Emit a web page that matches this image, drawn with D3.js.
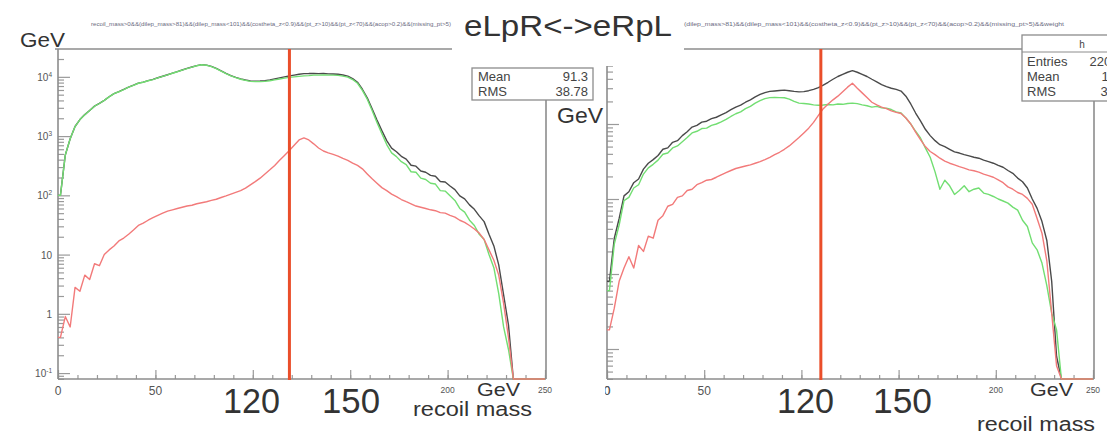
<!DOCTYPE html>
<html>
<head>
<meta charset="utf-8">
<script src="https://cdn.jsdelivr.net/npm/d3@7"></script>
<style>
  html, body { margin: 0; padding: 0; background: #fff; }
  svg { display: block; }
</style>
</head>
<body>
<svg id="chart" width="1107" height="435"></svg>
<script>
// Recoil-mass histograms, 100 bins of 2.5 GeV from 0 to 250 GeV.
const binWidth = 2.5;

// Left pad: eLpR
const leftTotal = [
  100, 481, 901, 1453, 1902, 2305, 2704, 3207, 3557, 4010,
  4612, 5214, 5617, 6119, 6722, 7226, 7831, 8134, 8638, 9042,
  9646, 10250, 10854, 11557, 12260, 13063, 13866, 14668, 15472, 16075,
  15778, 14982, 13886, 12592, 11398, 10505, 9812, 9220, 8832, 8550,
  8470, 8495, 8630, 8870, 9220, 9590, 9970, 10370, 10700, 11060,
  11330, 11360, 11440, 11330, 11360, 11220, 11190, 11060, 10720, 10290,
  9350, 8120, 6180, 4430, 2890, 1860, 1235, 840, 625, 545,
  455, 408, 322, 311, 258, 245, 217, 210, 171, 168,
  144, 125, 98, 87, 69, 58, 45, 36, 22, 14,
  6.7, 2.1, 0.65, 0, 0, 0, 0, 0, 0, 0
];
const leftBackground = [
  100, 480, 900, 1450, 1900, 2300, 2700, 3200, 3550, 4000,
  4600, 5200, 5600, 6100, 6700, 7200, 7800, 8100, 8600, 9000,
  9600, 10200, 10800, 11500, 12200, 13000, 13800, 14600, 15400, 16000,
  15700, 14900, 13800, 12500, 11300, 10400, 9700, 9100, 8700, 8400,
  8300, 8300, 8400, 8600, 8900, 9200, 9500, 9800, 10000, 10200,
  10400, 10500, 10700, 10700, 10800, 10700, 10700, 10600, 10300, 9900,
  9000, 7800, 5900, 4200, 2700, 1700, 1100, 720, 520, 450,
  370, 330, 250, 245, 195, 185, 160, 155, 120, 118,
  98, 82, 60, 52, 38, 31, 22, 18, 10, 6,
  2.2, 0.6, 0.25, 0, 0, 0, 0, 0, 0, 0
];
const leftSignal = [
  0.4, 0.9, 0.6, 2.8, 2.4, 4.5, 3.8, 7, 6.5, 10,
  12, 14, 17, 19, 22, 26, 31, 34, 38, 42,
  46, 50, 54, 57, 60, 63, 66, 68, 72, 75,
  78, 82, 86, 92, 98, 105, 112, 120, 132, 150,
  170, 195, 230, 270, 320, 390, 470, 570, 700, 860,
  930, 860, 740, 630, 560, 520, 490, 460, 420, 390,
  350, 320, 280, 230, 190, 160, 135, 120, 105, 95,
  85, 78, 72, 66, 63, 60, 57, 55, 51, 50,
  46, 43, 38, 35, 31, 27, 23, 18, 12, 8,
  4.5, 1.5, 0.4, 0, 0, 0, 0, 0, 0, 0
];

// Right pad: eRpL
const rightTotal = [
  8, 30, 55, 110, 125, 165, 185, 250, 300, 335,
  380, 460, 480, 570, 600, 700, 790, 910, 960, 1060,
  1090, 1180, 1230, 1320, 1420, 1550, 1680, 1780, 1950, 2100,
  2300, 2480, 2620, 2720, 2760, 2800, 2830, 2780, 2720, 2680,
  2700, 2780, 2900, 3050, 3300, 3600, 3950, 4300, 4600, 4900,
  5150, 4900, 4600, 4300, 3950, 3650, 3350, 3150, 3000, 2900,
  2750, 2350, 1850, 1400, 1100, 850, 700, 600, 530, 500,
  460, 425, 410, 390, 375, 360, 350, 330, 315, 300,
  280, 265, 240, 220, 190, 170, 140, 100, 75, 50,
  28, 8, 0.8, 0, 0, 0, 0, 0, 0, 0
];
const rightBackground = [
  6, 25, 45, 95, 105, 140, 155, 215, 260, 290,
  330, 395, 410, 480, 510, 580, 660, 760, 800, 870,
  880, 960, 1000, 1070, 1150, 1260, 1370, 1450, 1600, 1720,
  1900, 2050, 2180, 2250, 2260, 2250, 2240, 2150, 2000, 1900,
  1880, 1850, 1800, 1780, 1790, 1820, 1800, 1850, 1830, 1880,
  1900, 1870, 1800, 1750, 1680, 1720, 1640, 1620, 1560, 1450,
  1400, 1200, 1000, 800, 650, 480, 360, 230, 135, 178,
  150, 115, 130, 150, 125, 135, 140, 120, 115, 108,
  100, 94, 88, 78, 71, 52, 43, 26, 21, 14,
  7, 3, 1.8, 0, 0, 0, 0, 0, 0, 0
];
const rightSignal = [
  1.8, 3.5, 8, 12, 17, 12, 24, 20, 32, 30,
  52, 60, 80, 85, 105, 110, 130, 135, 155, 165,
  178, 182, 195, 210, 225, 240, 255, 265, 275, 285,
  300, 315, 335, 360, 390, 420, 460, 510, 580, 660,
  760, 880, 1050, 1300, 1600, 1850, 2100, 2350, 2700, 3100,
  3500, 3000, 2600, 2250, 1950, 1800, 1680, 1600, 1500, 1430,
  1380, 1200, 1000, 780, 620, 500, 430, 390, 350, 320,
  300, 285, 270, 258, 245, 238, 228, 215, 205, 195,
  180, 165, 145, 135, 122, 115, 102, 85, 55, 35,
  15, 3, 0.6, 0, 0, 0, 0, 0, 0, 0
];

// Axis ticks and labels
const xMinorTicks = d3.range(0, 251, 10);
const xMajorTicks = [0, 50, 100, 150, 200, 250];
const xLabelsLarge = [0, 50];
const xLabelsSmall = [200, 250];
const yLabelPowers = [-1, 0, 1, 2, 3, 4];

// Hand-drawn mass-cut markers (GeV)
const leftCut = 118.8;
const rightCut = 110;

// Statistics boxes
const leftStatNames = ["Mean", "RMS"];
const leftStatValues = ["91.3", "38.78"];
const rightStatNames = ["Entries", "Mean", "RMS"];
const rightStatValues = ["220054", "113.4", "38.52"];
const rightHistName = "h";

// Annotations
const titleText = "eLpR<->eRpL";
const selectionLeft = "recoil_mass>0&&(dilep_mass>81)&&(dilep_mass<101)&&(costheta_z<0.9)&&(pt_z>10)&&(pt_z<70)&&(acop>0.2)&&(missing_pt>5)";
const selectionRight = "(dilep_mass>81)&&(dilep_mass<101)&&(costheta_z<0.9)&&(pt_z>10)&&(pt_z<70)&&(acop>0.2)&&(missing_pt>5)&&weight";
const unitText = "GeV";
const windowLabels = ["120", "150"];
const axisTitle = "recoil mass";

const svg = d3.select("#chart");
svg.append("rect").attr("width", 1107).attr("height", 435).attr("fill", "#fff");

const FRAME = "#8c8c8c";
const TICK = "#9a9a9a";
const ROOTFONT = "'Liberation Sans', Arial, sans-serif";
const colTotal = "#4a4a4a";
const colBkg = "#72de72";
const colSig = "#f27a7a";
const colCut = "#ea4e2a";

function logTicks(domain) {
  const out = [];
  for (let n = -3; n <= 5; n++) {
    for (let k = 1; k <= 9; k++) {
      const v = k * Math.pow(10, n);
      if (v >= domain[0] && v <= domain[1]) out.push({ v, major: k === 1 });
    }
  }
  return out;
}

// Outline through the bin contents, pinned to the pad edges at 0 and 250 GeV.
function histPath(x, y, vals) {
  const floor = y.domain()[0];
  const pts = [[0, Math.max(vals[0], floor)]];
  vals.forEach((v, i) => pts.push([(i + 0.5) * binWidth, Math.max(v, floor)]));
  pts.push([vals.length * binWidth, Math.max(vals[vals.length - 1], floor)]);
  return d3.line().x(d => x(d[0])).y(d => y(d[1]))(pts);
}

function drawPanel(cfg) {
  const g = svg.append("g");
  const { x, y } = cfg;
  const [x0, x1] = x.range();
  const [yb, yt] = y.range();

  const clipId = "clip" + cfg.id;
  svg.append("clipPath").attr("id", clipId).append("rect")
    .attr("x", cfg.clipLeft).attr("y", 0).attr("width", 1107).attr("height", 435);
  g.attr("clip-path", `url(#${clipId})`);

  // bottom axis ticks (pointing into the frame)
  const minorAx = d3.axisBottom(x).tickValues(xMinorTicks).tickSize(-4).tickFormat("");
  const majorAx = d3.axisBottom(x).tickValues(xMajorTicks).tickSize(-9).tickFormat("");
  [minorAx, majorAx].forEach(ax => {
    const a = g.append("g").attr("transform", `translate(0,${yb})`).call(ax);
    a.select(".domain").remove();
    a.selectAll("line").attr("stroke", TICK).attr("stroke-width", 1.2);
  });

  // left axis ticks (log)
  const lt = logTicks(y.domain());
  const yMinor = d3.axisLeft(y).tickValues(lt.filter(t => !t.major).map(t => t.v)).tickSize(-6).tickFormat("");
  const yMajor = d3.axisLeft(y).tickValues(lt.filter(t => t.major).map(t => t.v)).tickSize(-12).tickFormat("");
  [yMinor, yMajor].forEach(ax => {
    const a = g.append("g").attr("transform", `translate(${x0},0)`).call(ax);
    a.select(".domain").remove();
    a.selectAll("line").attr("stroke", TICK).attr("stroke-width", 1.2);
  });

  // frame
  const fr = g.append("g").attr("stroke", FRAME).attr("stroke-width", 1.6).attr("fill", "none");
  fr.append("line").attr("x1", x0).attr("x2", x0).attr("y1", cfg.axisTop).attr("y2", yb);
  fr.append("line").attr("x1", x0).attr("x2", x1 + 1).attr("y1", yb).attr("y2", yb);
  fr.append("line").attr("x1", x1 + 1).attr("x2", x1 + 1).attr("y1", cfg.rightEdgeTop).attr("y2", yb);
  fr.append("line").attr("x1", cfg.topLine[0]).attr("x2", cfg.topLine[1]).attr("y1", yt).attr("y2", yt);

  // histograms
  const hClip = "hclip" + cfg.id;
  svg.append("clipPath").attr("id", hClip).append("rect")
    .attr("x", x0).attr("y", yt).attr("width", x1 - x0 + 2).attr("height", yb - yt + 1);
  const hg = g.append("g").attr("clip-path", `url(#${hClip})`).attr("fill", "none")
    .attr("stroke-width", 1.4).attr("stroke-linejoin", "round");
  cfg.series.forEach(s => {
    hg.append("path").attr("d", histPath(x, y, s.values)).attr("stroke", s.color);
  });

  // x tick labels
  const lab = g.append("g").attr("font-family", ROOTFONT).attr("fill", "#555").attr("text-anchor", "middle");
  xLabelsLarge.forEach(v => lab.append("text").attr("x", x(v)).attr("y", yb + 16)
    .attr("font-size", 12).text(v));
  xLabelsSmall.forEach(v => lab.append("text").attr("x", x(v)).attr("y", yb + 14)
    .attr("font-size", 8.5).text(v));

  // cut marker
  g.append("line").attr("x1", x(cfg.cut)).attr("x2", x(cfg.cut)).attr("y1", yt).attr("y2", yb + 1)
    .attr("stroke", colCut).attr("stroke-width", 3);

  return g;
}

// Left pad
const xL = d3.scaleLinear().domain([0, 250]).range([58, 545]);
const yL = d3.scaleLog().domain([Math.pow(10, -1.10), Math.pow(10, 4.47)]).range([379, 49]).clamp(true);
drawPanel({
  id: "L", x: xL, y: yL, clipLeft: 0, axisTop: 49, rightEdgeTop: 100, topLine: [55, 452], cut: leftCut,
  series: [
    { values: leftTotal, color: colTotal },
    { values: leftBackground, color: colBkg },
    { values: leftSignal, color: colSig }
  ]
});

// left y labels
const yl = svg.append("g").attr("font-family", ROOTFONT).attr("fill", "#555").attr("font-size", 10)
  .attr("text-anchor", "end");
yLabelPowers.forEach(p => {
  const t = yl.append("text").attr("x", 52).attr("y", yL(Math.pow(10, p)) + 4);
  if (p === 0) t.text("1");
  else if (p === 1) t.text("10");
  else {
    t.append("tspan").text("10");
    t.append("tspan").attr("font-size", 6.5).attr("dy", -4).text(p);
  }
});

// Right pad
const xR = d3.scaleLinear().domain([0, 250]).range([607, 1093]);
const yR = d3.scaleLog().domain([Math.pow(10, -0.4), Math.pow(10, 4)]).range([379, 49]).clamp(true);
drawPanel({
  id: "R", x: xR, y: yR, clipLeft: 605, axisTop: 66, rightEdgeTop: 101, topLine: [684, 1022], cut: rightCut,
  series: [
    { values: rightTotal, color: colTotal },
    { values: rightBackground, color: colBkg },
    { values: rightSignal, color: colSig }
  ]
});

// right pad "0" label, partly hidden
svg.append("clipPath").attr("id", "zeroClip").append("rect").attr("x", 606).attr("y", 370).attr("width", 20).attr("height", 30);
svg.append("text").attr("clip-path", "url(#zeroClip)").attr("x", xR(0)).attr("y", 395)
  .attr("font-family", ROOTFONT).attr("font-size", 12).attr("fill", "#555").attr("text-anchor", "middle").text(0);

// Title pave covering the top of both pads
svg.append("rect").attr("x", 452).attr("y", 0).attr("width", 232).attr("height", 66).attr("fill", "#fff");

// Left statistics box
const sbL = svg.append("g").attr("font-family", ROOTFONT).attr("font-size", 13).attr("fill", "#444");
sbL.append("rect").attr("x", 472).attr("y", 68).attr("width", 121).attr("height", 32)
  .attr("fill", "#fff").attr("stroke", FRAME).attr("stroke-width", 1.3);
leftStatNames.forEach((n, i) => {
  sbL.append("text").attr("x", 478).attr("y", 81 + i * 15).text(n);
  sbL.append("text").attr("x", 588).attr("y", 81 + i * 15).attr("text-anchor", "end").text(leftStatValues[i]);
});

// Right statistics box
const sbR = svg.append("g").attr("font-family", ROOTFONT).attr("font-size", 13).attr("fill", "#444");
sbR.append("rect").attr("x", 1022).attr("y", 35).attr("width", 120).attr("height", 66)
  .attr("fill", "#fff").attr("stroke", FRAME).attr("stroke-width", 1.3);
sbR.append("line").attr("x1", 1022).attr("x2", 1142).attr("y1", 52).attr("y2", 52)
  .attr("stroke", FRAME).attr("stroke-width", 1);
sbR.append("text").attr("x", 1082).attr("y", 48).attr("text-anchor", "middle").attr("font-size", 10).text(rightHistName);
rightStatNames.forEach((n, i) => {
  sbR.append("text").attr("x", 1027).attr("y", 66 + i * 15).text(n);
  sbR.append("text").attr("x", 1133).attr("y", 66 + i * 15).attr("text-anchor", "end").text(rightStatValues[i]);
});

// Pad titles (selection strings)
svg.append("text").attr("x", 91).attr("y", 26).attr("font-family", ROOTFONT).attr("font-size", 4.5)
  .attr("fill", "#6a6a80").attr("textLength", 360).attr("lengthAdjust", "spacingAndGlyphs").text(selectionLeft);
svg.append("text").attr("x", 684).attr("y", 26).attr("font-family", ROOTFONT).attr("font-size", 4.5)
  .attr("fill", "#6a6a80").attr("textLength", 380).attr("lengthAdjust", "spacingAndGlyphs").text(selectionRight);

// Overlay annotations
const OVER = "'Liberation Sans', Arial, sans-serif";
function note(txt, x, y, size, len) {
  svg.append("text").attr("x", x).attr("y", y).attr("font-family", OVER).attr("font-size", size)
    .attr("fill", "#333").attr("textLength", len).attr("lengthAdjust", "spacingAndGlyphs").text(txt);
}
note(titleText, 464, 36, 29, 208);
note(unitText, 20, 47, 20, 45);
note(unitText, 557, 123, 22, 46);
note(windowLabels[0], 223, 413, 35, 57);
note(windowLabels[1], 322, 413, 35, 58);
note(unitText, 477, 396, 19, 43);
note(axisTitle, 413, 416, 20, 119);
note(windowLabels[0], 777, 413, 35, 57);
note(windowLabels[1], 873, 413, 35, 59);
note(unitText, 1030, 396, 19, 43);
note(axisTitle, 977, 431, 20, 118);
</script>
</body>
</html>
